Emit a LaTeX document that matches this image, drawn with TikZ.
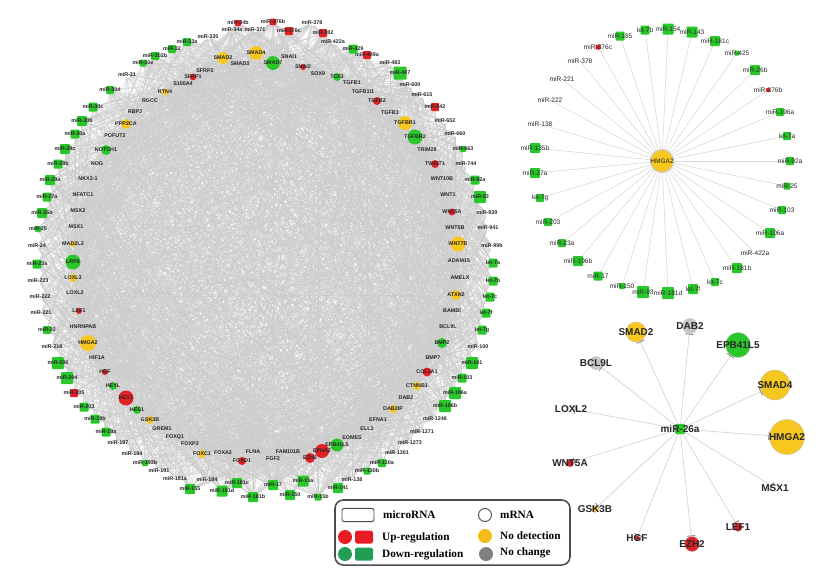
\documentclass[tikz,border=0pt]{standalone}
\usepackage{fontspec}
\setmainfont{Liberation Serif}
\setsansfont{Liberation Sans}
\usetikzlibrary{backgrounds,arrows.meta,positioning}

\begin{document}
\begin{tikzpicture}[x=0.03cm,y=-0.03cm,
  gene/.style={circle,inner sep=0pt,draw=none},
  mirna/.style={rectangle,rounded corners=0.8pt,inner sep=0pt,draw=none},
  txt/.style={font=\sffamily\bfseries\fontsize{4.6}{5}\selectfont,inner sep=0pt,text=black!85},
  stxt/.style={font=\sffamily\fontsize{5.6}{6}\selectfont,inner sep=0pt,text=black!85},
  btxt/.style={font=\sffamily\bfseries\fontsize{8.5}{9}\selectfont,inner sep=0pt,text=black!85},
  ltxt/.style={font=\bfseries\fontsize{9.6}{10}\selectfont,inner sep=0pt,anchor=west},
  web/.style={draw=cweb,line width=0.2pt},
  spoke/.style={draw=cspoke,line width=0.5pt},
  inh/.style={draw=cspoke,line width=0.7pt,-{Bar[width=7pt,line width=0.8pt,color=cbar]}},
  rim/.style={draw=black!25,line width=0.3pt},
  legbox/.style={draw=cbox,line width=1.3pt,rounded corners=0.25cm,inner sep=0pt},
]
%
\useasboundingbox (0,0) rectangle (833,575);
%
\definecolor{cup}{rgb}{0.88,0.13,0.15}
\definecolor{cdn}{rgb}{0.16,0.78,0.16}
\definecolor{cnd}{rgb}{0.96,0.78,0.12}
\definecolor{cnc}{rgb}{0.78,0.78,0.78}
\definecolor{cweb}{rgb}{0.8,0.8,0.8}
\definecolor{cspoke}{rgb}{0.85,0.85,0.85}
\definecolor{cbar}{rgb}{0.55,0.55,0.55}
\definecolor{cbox}{rgb}{0.3,0.3,0.3}
\definecolor{lred}{rgb}{0.91,0.11,0.14}
\definecolor{lgreen}{rgb}{0.13,0.62,0.33}
\definecolor{lyellow}{rgb}{0.96,0.74,0.09}
\definecolor{lgrey}{rgb}{0.5,0.5,0.5}
%
% large network: mRNAs (inner ring)
\foreach \x/\y/\t/\c/\s [count=\i] in {
  256/53/SMAD4/cnd/.42, 273/63/SMAD7/cdn/.42, 289/57/SNAI1/none/.15,
  303/67/SNAI2/cup/.18, 318/74/SOX9/cnc/.24, 337/77/TCF3/cdn/.24,
  352/83/TGFB1/none/.15, 363/92/TGFB1I1/none/.15, 377/101/TGFB2/cup/.24,
  390/113/TGFB3/none/.15, 405/123/TGFBR1/cnd/.42, 415/137/TGFBR2/cdn/.45,
  427/150/TRIM28/none/.15, 435/164/TWIST1/cup/.24, 442/179/WNT10B/none/.15,
  448/195/WNT1/none/.15, 452/212/WNT5A/cup/.21, 455/228/WNT5B/none/.15,
  458/244/WNT7B/cnd/.45, 459/261/ADAM15/none/.15, 460/278/AMELX/none/.15,
  456/295/ATXN2/cnd/.3, 452/311/BAMBI/none/.15, 448/327/BCL9L/none/.15,
  442/343/BMP2/cdn/.3, 433/358/BMP7/none/.15, 427/372/COL1A1/cup/.27,
  417/386/CTNNB1/cnd/.24, 406/398/DAB2/cnc/.18, 393/409/DAB2IP/cnd/.24,
  378/420/EFNA1/none/.15, 367/429/ELL3/none/.15, 352/438/EOMES/none/.15,
  337/445/EPB41L5/cdn/.39, 322/451/EPHA2/cup/.42, 310/458/EZH2/cup/.3,
  288/452/FAM101B/none/.15, 273/459/FGF2/none/.15, 253/452/FLNA/none/.15,
  242/461/FOXO1/cup/.24, 223/453/FOXA2/none/.15, 202/454/FOXC1/cnd/.24,
  190/444/FOXP2/none/.15, 175/437/FOXQ1/none/.15, 162/429/GREM1/none/.15,
  150/420/GSK3B/cnd/.24, 137/410/HES1/cdn/.24, 126/398/HEY1/cup/.45,
  113/386/HEYL/cdn/.24, 105/372/HGF/cup/.18, 97/358/HIF1A/cnc/.24,
  88/343/HMGA2/cnd/.48, 83/327/HNRNPAB/none/.15, 79/311/LEF1/cup/.18,
  75/293/LOXL2/none/.15, 73/278/LOXL3/cnd/.24, 73/262/LRP6/cdn/.45,
  73/244/MAD2L2/cnd/.18, 76/227/MSX1/none/.15, 78/211/MSX2/none/.15,
  83/195/NFATC1/none/.15, 88/179/NKX2-1/none/.15, 97/164/NOG/none/.15,
  106/150/NOTCH1/cdn/.3, 115/136/POFUT2/none/.15, 126/124/PPP2CA/cnd/.3,
  135/112/RBPJ/cnc/.2, 150/101/RGCC/none/.15, 165/92/RTN4/cnd/.2,
  183/84/S100A4/none/.15, 193/77/SFRP1/cup/.2, 205/71/SFRP2/none/.15,
  223/58/SMAD2/cnd/.36, 240/64/SMAD3/cnc/.24}
{
  \node[gene,fill=\c,minimum size=\s cm] (g\i) at (\x,\y) {};
  \node[txt] (gt\i) at (g\i) {\t};
  \xdef\ngen{\i}
}
%
% large network: microRNAs (outer ring)
\foreach \x/\y/\t/\c/\s [count=\i] in {
  238/23/miR-34b/cup/.18, 232/30/miR-34a/none/.15, 208/37/miR-335/none/.15,
  187/42/miR-33a/cdn/.24, 172/49/miR-32/cdn/.24, 155/56/miR-302b/cdn/.24,
  143/63/miR-30e/cdn/.21, 127/75/miR-31/none/.15, 110/90/miR-30d/cdn/.24,
  93/107/miR-30c/cdn/.27, 82/121/miR-30b/cdn/.3, 75/134/miR-30a/cdn/.27,
  65/149/miR-29c/cdn/.3, 58/164/miR-29b/cdn/.27, 50/180/miR-29a/cdn/.3,
  47/197/miR-27a/cdn/.27, 42/213/miR-26b/cdn/.3, 38/229/miR-25/cdn/.18,
  37/246/miR-24/none/.15, 37/264/miR-23a/cdn/.27, 38/281/miR-223/none/.15,
  40/297/miR-222/none/.15, 41/313/miR-221/none/.15, 47/330/miR-22/cdn/.24,
  52/347/miR-218/none/.15, 58/363/miR-206/cdn/.36, 67/378/miR-204/cdn/.36,
  74/393/miR-205/cup/.24, 84/407/miR-203/cdn/.27, 95/419/miR-19b/cdn/.27,
  106/432/miR-19a/cdn/.27, 118/443/miR-197/none/.15, 132/454/miR-194/none/.15,
  145/463/miR-193b/cdn/.18, 159/471/miR-191/none/.15, 175/479/miR-181a/none/.15,
  190/489/miR-155/cdn/.3, 207/480/miR-184/none/.15, 222/491/miR-181d/cdn/.33,
  237/483/miR-181c/cdn/.3, 253/497/miR-181b/cdn/.3, 273/485/miR-17/cdn/.3,
  290/495/miR-150/cdn/.3, 303/481/miR-15a/cdn/.33, 318/497/miR-15b/cdn/.21,
  338/488/miR-141/cdn/.3, 352/480/miR-138/none/.15, 367/471/miR-130b/cdn/.21,
  382/463/miR-130a/cdn/.24, 397/453/miR-1301/none/.15, 410/443/miR-1273/none/.15,
  422/432/miR-1271/none/.15, 435/419/miR-1246/none/.15, 445/406/miR-106b/cdn/.36,
  455/393/miR-106a/cdn/.36, 462/378/miR-103/cdn/.27, 472/363/miR-101/cdn/.36,
  478/347/miR-100/none/.15, 482/330/let-7g/cdn/.27, 486/313/let-7f/cdn/.27,
  490/297/let-7c/cdn/.27, 493/281/let-7b/cdn/.27, 493/263/let-7a/cdn/.27,
  492/246/miR-99b/none/.15, 488/228/miR-941/none/.15, 487/213/miR-939/none/.15,
  480/197/miR-93/cdn/.36, 475/180/miR-92a/cdn/.27, 466/164/miR-744/none/.15,
  463/149/miR-663/cdn/.18, 455/134/miR-660/none/.15, 445/121/miR-652/none/.15,
  435/107/miR-642/cup/.24, 422/95/miR-615/none/.15, 410/85/miR-600/none/.15,
  400/73/miR-497/cdn/.39, 390/63/miR-483/none/.15, 367/55/miR-449a/cup/.24,
  353/49/miR-429/cdn/.27, 333/42/miR-422a/none/.15, 323/33/miR-382/cup/.24,
  312/23/miR-378/none/.15, 289/31/miR-376c/cup/.24, 273/22/miR-376b/cup/.2,
  255/30/miR-371/none/.15}
{
  \node[mirna,fill=\c,minimum size=\s cm] (m\i) at (\x,\y) {};
  \node[txt] (mt\i) at (m\i) {\t};
  \xdef\nmir{\i}
}
%
\begin{scope}[on background layer]
\pgfmathsetseed{11}
\foreach \k in {1,...,3400}{
  \pgfmathrandominteger{\a}{1}{\ngen}
  \pgfmathrandominteger{\b}{1}{\nmir}
  \draw[web] (g\a) -- (m\b);
}
\end{scope}
%
% HMGA2 and its microRNAs
\node[gene,fill=cnd,draw=black!20,line width=1pt,minimum size=.69cm] (hmga) at (662,161) {};
\node[stxt] (hmgat) at (hmga) {HMGA2};
\foreach \x/\y/\t/\c/\s [count=\i] in {
  620/36/miR-185/cdn/.27, 645/30/let-7b/cdn/.27, 668/29/miR-154/cdn/.33,
  692/32/miR-143/cdn/.33, 715/41/miR-181c/cdn/.3, 737/53/miR-425/cdn/.15,
  755/70/miR-26b/cdn/.3, 768/90/miR-376b/cup/.12, 780/112/miR-196a/cdn/.24,
  787/136/let-7a/cdn/.24, 790/161/miR-92a/cdn/.24, 787/186/miR-25/cdn/.21,
  782/210/miR-103/cdn/.24, 770/233/miR-106a/cdn/.3, 755/253/miR-422a/none/.15,
  737/268/miR-181b/cdn/.3, 715/282/let-7c/cdn/.24, 693/289/let-7f/cdn/.3,
  668/293/miR-181d/cdn/.36, 643/292/miR-93/cdn/.36, 622/286/miR-150/cdn/.18,
  598/276/miR-17/cdn/.27, 578/261/miR-196b/cdn/.3, 562/243/miR-23a/cdn/.24,
  548/222/miR-203/cdn/.24, 540/198/let-7g/cdn/.24, 535/173/miR-27a/cdn/.3,
  535/148/miR-135b/cdn/.3, 540/124/miR-138/none/.15, 550/100/miR-222/none/.15,
  562/79/miR-221/none/.15, 580/61/miR-378/none/.15, 598/47/miR-376c/cup/.15}
{
  \node[mirna,fill=\c,minimum size=\s cm] (h\i) at (\x,\y) {};
  \node[stxt] (ht\i) at (h\i) {\t};
  \begin{scope}[on background layer]
    \draw[spoke] (hmga) -- (h\i);
  \end{scope}
}
%
% miR-26a and its targets
\node[mirna,fill=cdn,rim,minimum size=.3cm] (mir26) at (680,429) {};
\node[btxt] (mir26t) at (mir26) {miR-26a};
\foreach \x/\y/\t/\c/\s [count=\i] in {
  636/332/SMAD2/cnd/.6, 690/326/DAB2/cnc/.45, 738/345/EPB41L5/cdn/.75,
  596/363/BCL9L/cnc/.39, 775/385/SMAD4/cnd/.9, 571/409/LOXL2/none/.2,
  787/437/HMGA2/cnd/1.05, 570/463/WNT5A/cup/.24, 775/488/MSX1/none/.2,
  595/509/GSK3B/cnd/.21, 738/527/LEF1/cup/.27, 637/538/HGF/cup/.15,
  692/544/EZH2/cup/.45}
{
  \node[gene,fill=\c,rim,minimum size=\s cm] (t\i) at (\x,\y) {};
  \node[btxt] (tt\i) at (t\i) {\t};
  \begin{scope}[on background layer]
    \draw[inh] (mir26) -- (t\i);
  \end{scope}
}
%
% legend
\node[legbox,minimum width=7.05cm,minimum height=1.95cm] (legend) at (452.5,532.5) {};
\node[draw=cbox,fill=white,line width=0.8pt,rounded corners=2pt,minimum width=.96cm,minimum height=.4cm,inner sep=0pt] (kmir) at (358,515) {};
\node[ltxt] (kmirt) at (383,515) {microRNA};
\node[circle,draw=cbox,fill=white,line width=0.8pt,minimum size=.39cm,inner sep=0pt] (kmr) at (485,515) {};
\node[ltxt] (kmrt) at (500,515) {mRNA};
\node[circle,fill=lred,minimum size=.42cm,inner sep=0pt] (kupc) at (345,537) {};
\node[rectangle,rounded corners=1.5pt,fill=lred,minimum width=.54cm,minimum height=.39cm,inner sep=0pt] (kups) at (364,537) {};
\node[ltxt] (kupt) at (382,538) {Up-regulation};
\node[circle,fill=lgreen,minimum size=.42cm,inner sep=0pt] (kdnc) at (345,554) {};
\node[rectangle,rounded corners=1.5pt,fill=lgreen,minimum width=.54cm,minimum height=.39cm,inner sep=0pt] (kdns) at (364,554) {};
\node[ltxt] (kdnt) at (382,555) {Down-regulation};
\node[circle,fill=lyellow,minimum size=.42cm,inner sep=0pt] (kndc) at (485,536) {};
\node[ltxt] (kndt) at (500,536) {No detection};
\node[circle,fill=lgrey,minimum size=.42cm,inner sep=0pt] (kncc) at (486,554) {};
\node[ltxt] (knct) at (500,553) {No change};
%
\end{tikzpicture}
\end{document}
